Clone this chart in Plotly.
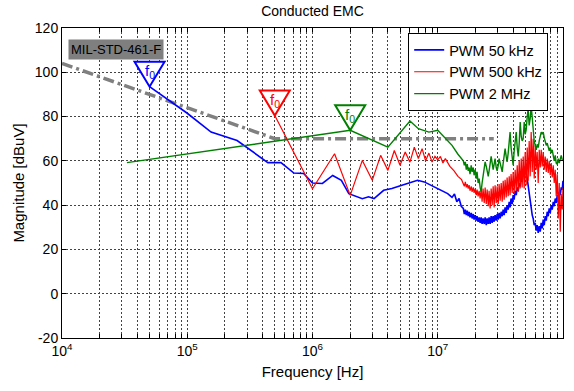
import math
import plotly.graph_objects as go

# ---------------- data (frequencies in MHz, magnitudes in dBuV) ----------------
mil_f_mhz = [0.01, 0.5, 28.0]
mil_db = [104.0, 70.0, 70.0]

# low/mid-frequency part of each measured spectrum
pwm50_f_mhz = [0.05, 0.1, 0.155, 0.25, 0.44, 0.56, 0.71, 0.85, 1.0, 1.2, 1.45, 1.7, 1.95,
               2.2, 2.5, 2.8, 3.1, 3.7, 4.3, 5.1, 5.8, 6.9, 7.8, 8.9, 10.7, 12.0,
               13.0, 13.6, 14.2, 14.8, 15.4]
pwm50_db = [93.5, 81.5, 73.0, 69.2, 59.2, 59.2, 54.5, 54.3, 50.0, 49.8, 53.4, 51.2, 45.2,
            44.0, 42.9, 43.8, 43.0, 46.7, 47.5, 48.9, 50.0, 51.2, 50.5, 48.9, 46.7, 45.2,
            43.5, 45.0, 41.5, 43.0, 39.5]

pwm500_f_mhz = [0.5, 1.0, 1.5, 2.0, 2.5, 3.0, 3.5, 4.0, 4.5, 5.0, 5.5, 6.0, 6.5, 7.0, 7.5,
                8.0, 8.5, 9.0, 9.5, 10.0, 10.5, 11.0, 11.5, 12.5, 13.5, 14.5, 15.5]
pwm500_db = [80.5, 47.4, 63.2, 44.4, 60.2, 51.2, 62.5, 55.7, 64.7, 58.0, 64.0, 59.4, 66.2,
             61.0, 65.5, 60.0, 63.5, 59.5, 62.0, 60.5, 62.0, 59.0, 61.0, 57.5, 55.5, 53.0,
             51.5]

pwm2m_f_mhz = [0.033, 2.0, 4.0, 6.0, 7.0, 8.5, 10.0, 11.0, 13.0, 14.5]
pwm2m_db = [59.2, 73.8, 66.2, 78.0, 74.5, 73.0, 73.8, 71.5, 67.0, 63.0]

# high-frequency part (16 MHz .. 100 MHz), common frequency grid
hf_f_mhz = [16.0, 16.3, 16.6, 16.9, 17.2, 17.5, 17.8, 18.1, 18.5, 18.8,
            19.2, 19.5, 19.9, 20.3, 20.6, 21.0, 21.4, 21.8, 22.2, 22.6,
            23.0, 23.5, 23.9, 24.4, 24.8, 25.3, 25.7, 26.2, 26.7, 27.2,
            27.7, 28.2, 28.7, 29.3, 29.8, 30.4, 30.9, 31.5, 32.1, 32.7,
            33.3, 33.9, 34.5, 35.2, 35.8, 36.5, 37.2, 37.8, 38.5, 39.3,
            40.0, 40.7, 41.5, 42.3, 43.1, 43.9, 44.7, 45.5, 46.4, 47.2,
            48.1, 49.0, 49.9, 50.8, 51.8, 52.7, 53.7, 54.7, 55.7, 56.8,
            57.8, 58.9, 60.0, 61.1, 62.2, 63.4, 64.6, 65.8, 67.0, 68.2,
            69.5, 70.8, 72.1, 73.5, 74.8, 76.2, 77.6, 79.1, 80.5, 82.0,
            83.6, 85.1, 86.7, 88.3, 90.0, 91.6, 93.3, 95.1, 96.8, 98.6,
            100.0]
pwm50_hf_db = [38.5, 36.0, 38.0, 35.5, 37.5, 35.0, 37.0, 34.5, 36.5, 34.0,
               36.0, 33.5, 35.5, 33.0, 35.0, 32.5, 34.5, 32.0, 34.5, 31.5,
               34.0, 31.5, 34.5, 31.0, 34.0, 31.5, 34.5, 31.5, 35.0, 32.0,
               35.0, 32.5, 35.5, 33.0, 36.0, 33.5, 36.5, 34.0, 37.0, 35.0,
               38.0, 35.5, 39.0, 36.5, 40.0, 38.0, 41.5, 39.0, 43.0, 40.5,
               44.5, 42.5, 46.5, 44.5, 48.0, 46.5, 50.0, 48.5, 52.5, 50.5,
               55.0, 53.0, 57.5, 55.5, 52.0, 49.5, 44.0, 41.5, 38.0, 35.5,
               34.0, 31.0, 32.0, 28.5, 31.0, 27.5, 30.5, 28.0, 32.0, 29.5,
               33.5, 31.0, 35.0, 33.0, 37.0, 35.0, 38.5, 36.5, 40.0, 38.0,
               41.5, 39.5, 43.0, 41.0, 44.5, 42.5, 46.0, 44.5, 48.0, 47.0,
               51.0]
pwm500_hf_db = [50.0, 48.5, 50.5, 48.0, 49.5, 47.5, 49.0, 46.5, 48.5, 46.0,
                48.0, 45.5, 47.5, 44.5, 47.0, 44.0, 46.5, 43.0, 47.0, 41.5,
                47.5, 41.0, 48.0, 40.5, 47.0, 39.5, 46.5, 38.5, 47.5, 40.0,
                48.5, 39.0, 49.0, 41.0, 48.5, 40.5, 49.5, 42.0, 50.0, 41.5,
                51.0, 42.5, 51.5, 43.5, 52.5, 44.0, 53.0, 44.5, 54.0, 45.5,
                55.0, 45.0, 56.0, 46.5, 58.0, 46.0, 60.0, 47.5, 61.0, 48.0,
                62.0, 47.5, 64.0, 49.0, 66.0, 51.0, 69.0, 53.0, 73.0, 55.0,
                70.0, 52.0, 67.0, 56.0, 64.0, 50.0, 65.0, 57.0, 65.0, 57.5,
                64.0, 56.0, 62.0, 55.0, 61.0, 54.5, 60.0, 53.5, 59.0, 52.5,
                58.0, 50.0, 56.0, 44.0, 54.0, 34.0, 50.0, 28.0, 45.0, 38.0,
                48.0]
pwm2m_hf_db = [60.0, 58.0, 59.5, 56.0, 58.5, 55.5, 57.0, 54.0, 58.0, 55.0,
               57.0, 53.5, 56.0, 52.0, 55.0, 50.0, 52.0, 48.0, 46.0, 50.0,
               53.0, 57.0, 59.5, 57.5, 55.0, 53.0, 55.5, 58.5, 62.0, 59.0,
               56.0, 58.5, 61.0, 57.0, 55.5, 58.0, 61.0, 59.0, 56.0, 55.0,
               59.0, 63.0, 65.5, 62.0, 59.5, 63.5, 70.0, 73.0, 66.0, 60.0,
               58.0, 64.0, 70.0, 73.0, 66.0, 62.0, 68.0, 77.5, 71.0, 69.0,
               70.0, 77.5, 72.0, 74.0, 80.0, 83.5, 76.0, 79.0, 85.0, 78.0,
               74.0, 69.0, 67.0, 65.0, 67.5, 66.0, 69.0, 71.0, 73.0, 72.0,
               73.0, 70.5, 69.0, 67.0, 68.0, 66.0, 64.5, 66.0, 63.5, 65.0,
               62.0, 60.0, 62.5, 59.0, 58.5, 61.0, 59.0, 61.0, 62.5, 60.5,
               60.0]

series_names = ["PWM 50 kHz", "PWM 500 kHz", "PWM 2 MHz"]
series_colors = ["#0000FF", "#FF0000", "#008000"]
series_widths = [1.6, 1.2, 1.4]
f0_mhz = [0.05, 0.5, 2.0]
f0_db = [93.5, 80.5, 73.8]

x_decades = [4, 5, 6, 7, 8]
y_ticks = [-20, 0, 20, 40, 60, 80, 100, 120]

FONT = "Liberation Sans, Arial, sans-serif"


def hz(lst):
    return [v * 1e6 for v in lst]


fig = go.Figure()

fig.add_trace(go.Scatter(x=hz(mil_f_mhz), y=mil_db, mode="lines", showlegend=False,
                         line=dict(color="#808080", width=3.5, dash="11px,4px,3px,4px")))

series = [
    (pwm50_f_mhz, pwm50_db, pwm50_hf_db),
    (pwm500_f_mhz, pwm500_db, pwm500_hf_db),
    (pwm2m_f_mhz, pwm2m_db, pwm2m_hf_db),
]
for (fl, dl, hl), name, col, w in zip(series, series_names, series_colors, series_widths):
    fig.add_trace(go.Scatter(x=hz(fl + hf_f_mhz), y=dl + hl, mode="lines", name=name,
                             line=dict(color=col, width=w)))

# x ticks: every 1..9 x 10^k for the grid, labels only at decades
xtv, xtt = [], []
for d in x_decades:
    for m in range(1, 10):
        if d == x_decades[-1] and m > 1:
            break
        xtv.append(m * 10 ** d)
        xtt.append("10<sup>%d</sup>" % d if m == 1 else "")

shapes = []
annotations = []
for fm, db, c in zip(f0_mhz, f0_db, series_colors):
    shapes.append(dict(type="path", xref="x", yref="y", xsizemode="pixel", ysizemode="pixel",
                       xanchor=fm * 1e6, yanchor=db,
                       path="M -15,25 L 15,25 L 0,0 Z",
                       line=dict(color=c, width=2), fillcolor="white", layer="above"))
    annotations.append(dict(x=math.log10(fm * 1e6), y=db, xref="x", yref="y", yshift=15,
                            text="f<sub>0</sub>", showarrow=False,
                            font=dict(color=c, size=15, family=FONT)))

annotations.append(dict(x=0.011, y=0.932, xref="paper", yref="paper", xanchor="left",
                        yanchor="middle", text="MIL-STD-461-F", showarrow=False,
                        bgcolor="#7f7f7f", borderpad=2,
                        font=dict(color="black", size=13, family=FONT)))

axis_common = dict(showline=True, linecolor="black", linewidth=1, mirror="ticks",
                   ticks="inside", ticklen=4, tickcolor="black",
                   showgrid=True, gridcolor="#444444", gridwidth=1, griddash="2px,2px",
                   zeroline=False,
                   tickfont=dict(size=14, color="black", family=FONT))

fig.update_layout(
    width=574, height=391,
    margin=dict(l=62, r=11, t=28, b=53),
    paper_bgcolor="white", plot_bgcolor="white",
    font=dict(family=FONT, color="black"),
    title=dict(text="Conducted EMC", x=0.5, xref="paper", xanchor="center",
               y=0.972, yanchor="middle", font=dict(size=14, color="black")),
    xaxis=dict(type="log", range=[4, 8], tickmode="array", tickvals=xtv, ticktext=xtt,
               title=dict(text="Frequency [Hz]", font=dict(size=15), standoff=8),
               **axis_common),
    yaxis=dict(range=[-20, 120], tickmode="array", tickvals=y_ticks,
               ticktext=[str(v) for v in y_ticks],
               title=dict(text="Magnitude [dBuV]", font=dict(size=15), standoff=6),
               **axis_common),
    legend=dict(x=0.691, y=0.984, xanchor="left", yanchor="top",
                bgcolor="white", bordercolor="black", borderwidth=1,
                font=dict(size=14.5, color="black"), tracegroupgap=0),
    shapes=shapes,
    annotations=annotations,
)

fig.write_html("out.html")
